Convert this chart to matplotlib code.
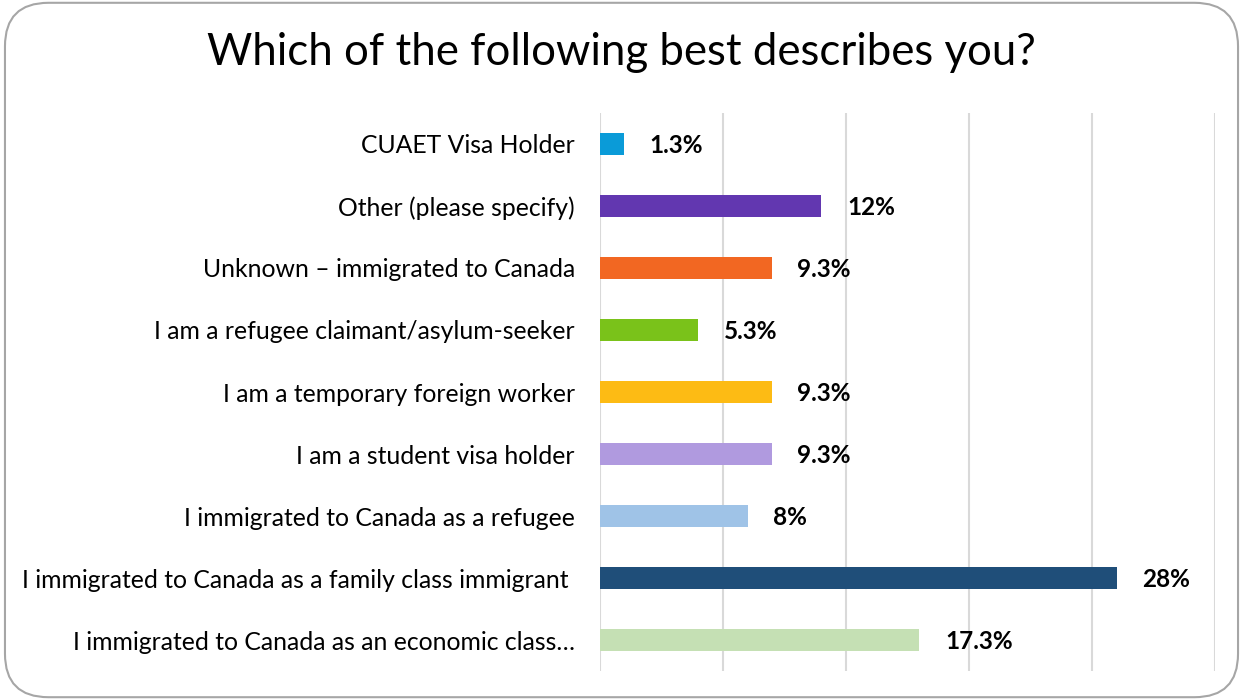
import matplotlib.pyplot as plt
from matplotlib.patches import FancyBboxPatch
import numpy as np

# Survey responses (share of respondents), top to bottom as shown
categories = [
    "CUAET Visa Holder",
    "Other (please specify)",
    "Unknown \u2013 immigrated to Canada",
    "I am a refugee claimant/asylum-seeker",
    "I am a temporary foreign worker",
    "I am a student visa holder",
    "I immigrated to Canada as a refugee",
    "I immigrated to Canada as a family class immigrant ",
    "I immigrated to Canada as an economic class\u2026",
]
values = [1.3, 12.0, 9.3, 5.3, 9.3, 9.3, 8.0, 28.0, 17.3]
labels = ["1.3%", "12%", "9.3%", "5.3%", "9.3%", "9.3%", "8%", "28%", "17.3%"]
colors = ["#0A9BD8", "#6237B0", "#F26722", "#7AC21A", "#FDBB14",
          "#B09ADF", "#9FC3E7", "#1F4E79", "#C5E0B4"]

plt.rcParams['font.family'] = ['Lato', 'DejaVu Sans']

fig = plt.figure(figsize=(12.43, 7.0), dpi=100)
ax = fig.add_axes([0.4827, 0.0414, 0.4948, 0.7972])

y = np.arange(len(categories))
ax.barh(y, values, height=0.355, color=colors, zorder=3)
for yi, v, lab in zip(y, values, labels):
    ax.text(v + 1.4, yi + 0.03, lab, va='center', ha='left', fontsize=17.5,
            fontweight='bold', color='black')

ax.set_xlim(0, 100 / 3)
ax.set_ylim(len(categories) - 0.5, -0.5)
ax.set_xticks(np.arange(0, 34, 20 / 3))
ax.xaxis.grid(True, color='#D9D9D9', linewidth=1.5, zorder=0)
ax.tick_params(axis='x', length=0, labelbottom=False)
ax.tick_params(axis='y', length=0, pad=18, labelsize=17.8)
ax.set_yticks(y)
ax.set_yticklabels(categories)
for s in ax.spines.values():
    s.set_visible(False)

fig.text(0.5, 0.925, "Which of the following best describes you?",
         ha='center', va='center', fontsize=31.5)

border = FancyBboxPatch((0.004, 0.004), 0.992, 0.992,
                        boxstyle="round,pad=0,rounding_size=0.035",
                        transform=fig.transFigure, fill=False,
                        edgecolor='#A6A6A6', linewidth=1.5,
                        mutation_aspect=1243 / 700)
fig.patches.append(border)

fig.savefig("out.png", dpi=100)
